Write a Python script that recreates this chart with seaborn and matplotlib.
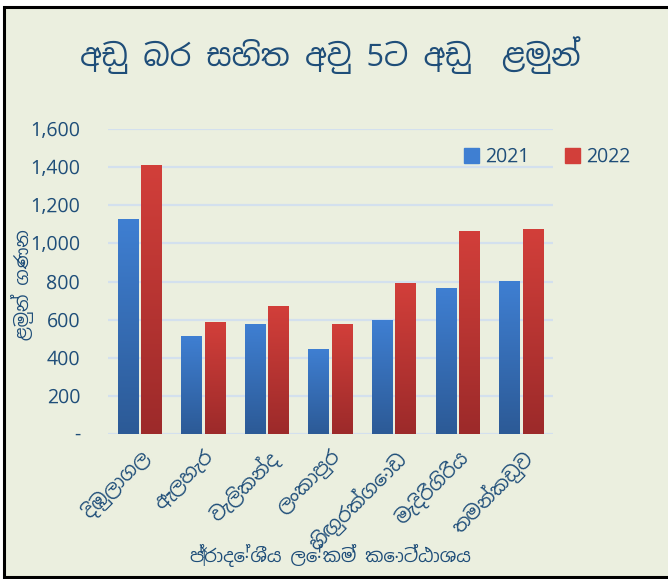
import matplotlib
matplotlib.use("Agg")
import numpy as np
import pandas as pd
import seaborn as sns
import matplotlib.pyplot as plt
from matplotlib import font_manager
from matplotlib.colors import LinearSegmentedColormap
from matplotlib.patches import Rectangle
from matplotlib.ticker import FuncFormatter

# data
divisions = ["දිඹුලාගල", "ඇලහැර", "වැලිකන්ද", "ලංකාපුර", "හිඟුරක්ගොඩ", "මැදිරිගිරිය", "තමන්කඩුව"]
years = ["2021", "2022"]
values_2021 = [1124, 511, 574, 443, 595, 763, 799]
values_2022 = [1407, 585, 668, 574, 789, 1061, 1072]
y_ticks = [0, 200, 400, 600, 800, 1000, 1200, 1400, 1600]

title = "අඩු බර සහිත අවු 5ට අඩු  ළමුන්"
x_label = "ප්‍රාදේශීය ලේකම් කොට්ඨාශය"
y_label = "ළමුන් ගණන"


def find_sinhala_font():
    for f in font_manager.fontManager.ttflist:
        n = f.name.lower()
        if "sinhala" in n or "iskoola" in n:
            return f.name
    try:
        from fontTools.ttLib import TTFont
    except ImportError:
        return None
    for f in font_manager.fontManager.ttflist:
        try:
            cmap = TTFont(f.fname, fontNumber=0, lazy=True).getBestCmap()
        except Exception:
            continue
        if cmap and 0x0D85 in cmap:
            return f.name
    return None


df = pd.DataFrame({
    "division": divisions * 2,
    "year": [years[0]] * len(divisions) + [years[1]] * len(divisions),
    "count": values_2021 + values_2022,
})

sns.set_style("white")
sinhala = find_sinhala_font()
families = ([sinhala] if sinhala else []) + ["Open Sans", "DejaVu Sans"]
plt.rcParams["font.family"] = families

bg = "#EBEFDF"
text_col = "#1F4E79"
grid_col = "#D3E0EE"

fig = plt.figure(figsize=(6.68, 5.79), dpi=100, facecolor="white")
fig.patches.append(Rectangle((4 / 668, 2 / 579), 1.02, 570 / 579, transform=fig.transFigure,
                             facecolor=bg, edgecolor="black", linewidth=2.2, zorder=-10))

ax = fig.add_axes([108 / 668, (579 - 434) / 579, 445 / 668, 305 / 579])
ax.set_facecolor("none")

blue_top, blue_bot = "#3F7FD2", "#2C5A96"
red_top, red_bot = "#D23F3A", "#9C2A2A"

sns.barplot(data=df, x="division", y="count", hue="year", hue_order=years,
            palette=[blue_top, red_top], width=0.74, gap=0.12, ax=ax,
            linewidth=0, legend=False)

# vertical gradient fill on each bar
grad = np.linspace(0, 1, 256).reshape(-1, 1)
for cont, (top, bot) in zip(ax.containers, [(blue_top, blue_bot), (red_top, red_bot)]):
    cmap = LinearSegmentedColormap.from_list("g", [bot, top])
    for bar in cont:
        x0, w, h = bar.get_x(), bar.get_width(), bar.get_height()
        ax.imshow(grad, extent=[x0, x0 + w, 0, h], origin="lower", aspect="auto",
                  cmap=cmap, zorder=3, interpolation="bicubic")
        bar.set_visible(False)

ax.set_xlim(-0.5, len(divisions) - 0.5)
ax.set_ylim(0, 1600)
ax.set_yticks(y_ticks)
ax.yaxis.set_major_formatter(FuncFormatter(lambda v, p: "-" if v == 0 else f"{v:,.0f}"))
ax.grid(axis="y", color=grid_col, linewidth=1.6, zorder=0)
ax.set_axisbelow(True)
sns.despine(ax=ax, left=True, bottom=True)
ax.tick_params(axis="both", length=0, colors=text_col, labelsize=14)
ax.tick_params(axis="y", pad=20)
ax.tick_params(axis="x", pad=9)
for lbl in ax.get_xticklabels():
    lbl.set_rotation(45)
    lbl.set_ha("right")
    lbl.set_va("top")
    lbl.set_rotation_mode("anchor")
    lbl.set_fontsize(14)
ax.set_xlabel("")
ax.set_ylabel("")

fig.text(0.494, 0.905, title, ha="center", va="center", fontsize=22,
         fontweight="bold", color=text_col)
fig.text(0.494, 0.041, x_label, ha="center", va="center", fontsize=13,
         fontweight="bold", color=text_col)
fig.text(0.034, 0.508, y_label, ha="center", va="center", fontsize=13,
         fontweight="bold", color=text_col, rotation=90)

handles = [Rectangle((0, 0), 1, 1, color=blue_top), Rectangle((0, 0), 1, 1, color=red_top)]
fig.legend(handles, years, loc="center", bbox_to_anchor=(0.819, 0.729), ncols=2,
           frameon=False, fontsize=14, labelcolor=text_col, handlelength=0.8,
           handleheight=0.8, handletextpad=0.3, columnspacing=1.8)

fig.savefig("out.png", dpi=100, facecolor=fig.get_facecolor())
